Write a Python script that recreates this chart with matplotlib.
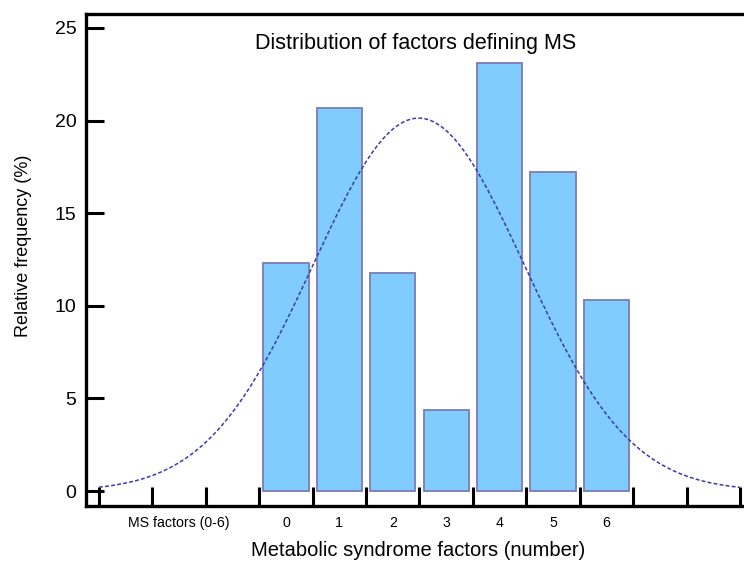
import numpy as np
import matplotlib
matplotlib.use("Agg")
import matplotlib.pyplot as plt

# ---- data ----
factors = [0, 1, 2, 3, 4, 5, 6]
rel_freq = [12.29, 20.66, 11.79, 4.37, 23.13, 17.21, 10.30]
category_label = "MS factors (0-6)"
tick_labels = ["0", "1", "2", "3", "4", "5", "6"]
y_ticks = [0, 5, 10, 15, 20, 25]

plt.rcParams['font.family'] = ['Liberation Sans', 'DejaVu Sans']

fig = plt.figure(figsize=(7.44, 5.63), dpi=100)
ax = fig.add_axes([86/744, 57/563, 1 - 86/744, (506-14)/563])

x = np.array(factors, dtype=float)
p = np.array(rel_freq)
ax.bar(x, p, width=0.85, color="#80CCFF", edgecolor="#7B7BB8", linewidth=1.3, zorder=2)

# fitted normal curve (mean/sd from the histogram, bins drawn with offset of 0.5)
total = p.sum()
mean = (x * p).sum() / total
sd = np.sqrt(((x - mean) ** 2 * p).sum() / total)
xc = np.linspace(-3.5, 8.5, 400)
yc = total / (sd * np.sqrt(2 * np.pi)) * np.exp(-((xc + 0.5 - mean) ** 2) / (2 * sd ** 2))
ax.plot(xc, yc, color="#3A3AB0", linewidth=1.1, linestyle=(0, (2.5, 1.5)), zorder=3)

ax.set_xlim(-3.5 - 13/53.42, 8.5 + 4/53.42)
ax.set_ylim(-15/18.52, (491-14)/18.52)

ax.set_yticks(y_ticks)
ax.set_yticklabels([str(v) for v in y_ticks], fontsize=14)
ax.tick_params(axis='y', direction='in', length=13, width=2.2, pad=7)

ax.set_xticks(np.arange(-3.5, 8.6, 1.0))
ax.set_xticklabels([])
ax.tick_params(axis='x', which='major', direction='in', length=14, width=2.2)
ax.set_xticks([-2] + factors, minor=True)
ax.set_xticklabels([category_label] + tick_labels, minor=True, fontsize=10.2)
ax.tick_params(axis='x', which='minor', length=0, pad=7)

for s in ['left', 'bottom', 'top']:
    ax.spines[s].set_linewidth(2.4)
ax.spines['right'].set_visible(False)

fig.text(416/744, 1 - 43/563, "Distribution of factors defining MS", ha='center', va='center', fontsize=15.5)
fig.text(418/744, 1 - 551/563, "Metabolic syndrome factors (number)", ha='center', va='center', fontsize=14.5)
fig.text(24/744, 1 - 246/563, "Relative frequency (%)", ha='center', va='center', rotation=90, fontsize=13)

fig.savefig("out.png", dpi=100)
